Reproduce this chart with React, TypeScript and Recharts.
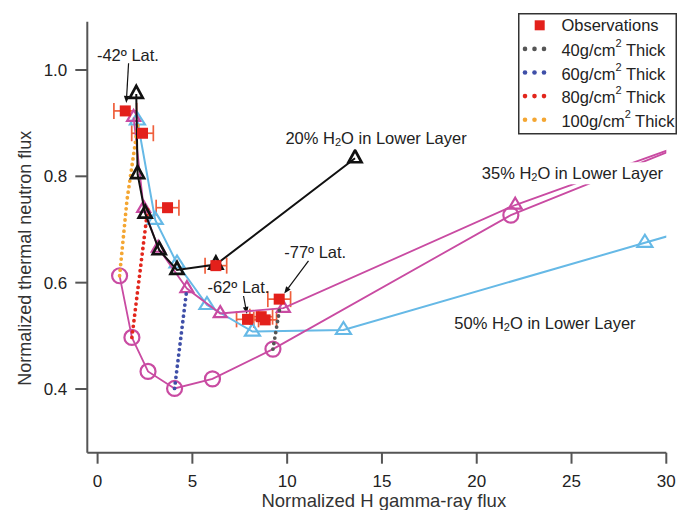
import React from 'react';
import {
  ScatterChart,
  Scatter,
  XAxis,
  YAxis,
  ErrorBar,
  ReferenceLine,
  ReferenceDot,
  Label,
} from 'recharts';

// ---------------- data ----------------
const xTicks = [0, 5, 10, 15, 20, 25, 30];
const yTicks = [0.4, 0.6, 0.8, 1.0];

// Observations (x, y, horizontal error)
const observations = [
  { x: 1.46, y: 0.923, ex: 0.6 },
  { x: 2.37, y: 0.881, ex: 0.57 },
  { x: 3.69, y: 0.741, ex: 0.6 },
  { x: 6.24, y: 0.632, ex: 0.57 },
  { x: 7.91, y: 0.531, ex: 0.58 },
  { x: 8.63, y: 0.536, ex: 0.6 },
  { x: 8.84, y: 0.53, ex: 0.6 },
  { x: 9.58, y: 0.569, ex: 0.6 },
];

// 20% H2O in lower layer (black triangles)
const water20 = [
  { x: 2.04, y: 0.955 },
  { x: 2.11, y: 0.804 },
  { x: 2.51, y: 0.73 },
  { x: 3.25, y: 0.661 },
  { x: 4.19, y: 0.624 },
  { x: 6.24, y: 0.634 },
  { x: 13.58, y: 0.834 },
];

// 35% H2O in lower layer (magenta triangles)
const water35 = [
  { x: 1.9, y: 0.911 },
  { x: 2.43, y: 0.74 },
  { x: 3.2, y: 0.665 },
  { x: 4.71, y: 0.589 },
  { x: 6.47, y: 0.542 },
  { x: 9.8, y: 0.552 },
  { x: 22.03, y: 0.746 },
  { x: 31, y: 0.861 },
];

// 35% H2O, thin-layer variant (magenta circles)
const water35Circles = [
  { x: 1.16, y: 0.613 },
  { x: 1.81, y: 0.497 },
  { x: 2.66, y: 0.433 },
  { x: 4.06, y: 0.401 },
  { x: 6.06, y: 0.419 },
  { x: 9.25, y: 0.475 },
  { x: 21.8, y: 0.727 },
  { x: 31, y: 0.859 },
];

// 50% H2O in lower layer (light-blue triangles)
const water50 = [
  { x: 2.1, y: 0.905 },
  { x: 3.04, y: 0.718 },
  { x: 4.19, y: 0.636 },
  { x: 5.77, y: 0.558 },
  { x: 8.17, y: 0.508 },
  { x: 12.97, y: 0.511 },
  { x: 28.87, y: 0.675 },
  { x: 31, y: 0.697 },
];

// layer-thickness curves (dotted)
const thick40 = [
  { x: 9.25, y: 0.475 },
  { x: 9.6, y: 0.55 },
];
const thick60 = [
  { x: 4.06, y: 0.401 },
  { x: 4.71, y: 0.589 },
];
const thick80 = [
  { x: 1.81, y: 0.497 },
  { x: 2.65, y: 0.74 },
];
const thick100 = [
  { x: 1.16, y: 0.613 },
  { x: 1.55, y: 0.755 },
  { x: 2.16, y: 0.905 },
];

// annotations
const latLabels = [
  { text: '-42º Lat.', x: 1.6, y: 1.028 },
  { text: '-62º Lat.', x: 7.43, y: 0.592 },
  { text: '-77º Lat.', x: 11.48, y: 0.658 },
];
const latArrows = [
  { x1: 1.634, y1: 1.0126, x2: 1.513, y2: 0.938 },
  { x1: 7.698, y1: 0.5749, x2: 7.877, y2: 0.5411 },
  { x1: 11.125, y1: 0.6408, x2: 9.844, y2: 0.5796 },
];
const waterLabels = [
  { pct: '20%', x: 14.69, y: 0.8715 },
  { pct: '35%', x: 25.05, y: 0.8057 },
  { pct: '50%', x: 23.6, y: 0.5236 },
];

const thicknessLegend = [40, 60, 80, 100];

// ---------------- styles ----------------
const FONT = '"Liberation Sans", Arial, Helvetica, sans-serif';
const W = 677;
const H = 510;
const AXIS = '#555';
const TEXT = '#222';
const RED = '#e3201b';
const ERR = '#ef5f3c';
const MAGENTA = '#c94ba2';
const LIGHTBLUE = '#66b9e6';
const BLACK = '#111';
const thickColors = ['#555555', '#3f4fa8', '#e2261c', '#f4a632'];

const triangle = (color: string, base: number, h: number, sw: number) => (p: any) => {
  const { cx, cy } = p;
  if (cx == null || cy == null) return <g />;
  const d = `M${cx},${cy - (h * 2) / 3} L${cx + base / 2},${cy + h / 3} L${cx - base / 2},${cy + h / 3} Z`;
  return <path d={d} fill="none" stroke={color} strokeWidth={sw} strokeLinejoin="miter" />;
};

const circle = (color: string, r: number, sw: number) => (p: any) => {
  const { cx, cy } = p;
  if (cx == null || cy == null) return <g />;
  return <circle cx={cx} cy={cy} r={r} fill="none" stroke={color} strokeWidth={sw} />;
};

const square = (color: string, s: number) => (p: any) => {
  const { cx, cy } = p;
  if (cx == null || cy == null) return <g />;
  return <rect x={cx - s / 2} y={cy - s / 2} width={s} height={s} fill={color} />;
};

const noShape = () => <g />;

const arrowShape = (p: any) => {
  const { x1, y1, x2, y2 } = p;
  if ([x1, y1, x2, y2].some((v) => v == null || isNaN(v))) return <g />;
  const ang = Math.atan2(y2 - y1, x2 - x1);
  const L = 7;
  const hw = 2.8;
  const bx = x2 - L * Math.cos(ang);
  const by = y2 - L * Math.sin(ang);
  const px = -Math.sin(ang) * hw;
  const py = Math.cos(ang) * hw;
  return (
    <g>
      <line x1={x1} y1={y1} x2={bx} y2={by} stroke={BLACK} strokeWidth={1.2} />
      <path d={`M${x2},${y2} L${bx + px},${by + py} L${bx - px},${by - py} Z`} fill={BLACK} />
    </g>
  );
};

const latTextShape = (text: string) => (p: any) => (
  <text
    x={p.cx}
    y={p.cy}
    textAnchor="middle"
    dominantBaseline="central"
    fontSize={16.5}
    fontFamily={FONT}
    fill={TEXT}
  >
    {text}
  </text>
);

const waterTextShape = (pct: string) => (p: any) => (
  <g>
    <rect x={p.cx - 94} y={p.cy - 11} width={188} height={22} fill="#fff" />
    <text
      x={p.cx}
      y={p.cy}
      textAnchor="middle"
      dominantBaseline="central"
      fontSize={16.5}
      fontFamily={FONT}
      fill={TEXT}
    >
      {pct} H
      <tspan fontSize={11} dy={4}>
        2
      </tspan>
      <tspan dy={-4}>O in Lower Layer</tspan>
    </text>
  </g>
);

const dotted = (color: string) => ({
  stroke: color,
  strokeWidth: 3.8,
  strokeDasharray: '0 5.6',
  strokeLinecap: 'round' as const,
});

const LegendBox = () => {
  const rowY = (i: number) => 12.3 + i * 23.6;
  return (
    <svg width={159} height={122} style={{ position: 'absolute', left: 518.3, top: 12.7 }}>
      <rect x={0.75} y={0.75} width={157.5} height={120} fill="#fff" stroke="#333" strokeWidth={1.5} />
      <rect x={21.7 - 5} y={rowY(0) - 5} width={10} height={10} fill={RED} />
      <text x={43.4} y={rowY(0)} dominantBaseline="central" fontSize={16.5} fontFamily={FONT} fill={TEXT}>
        Observations
      </text>
      {thicknessLegend.map((t, i) => {
        const y = rowY(i + 1);
        return (
          <g key={t}>
            {[7, 16.5, 26].map((dx) => (
              <circle key={dx} cx={dx} cy={y} r={2.3} fill={thickColors[i]} />
            ))}
            <text x={43.4} y={y + 1} dominantBaseline="central" fontSize={16.5} fontFamily={FONT} fill={TEXT}>
              {t}g/cm
              <tspan fontSize={11} dy={-7}>
                2
              </tspan>
              <tspan dy={7}> Thick</tspan>
            </text>
          </g>
        );
      })}
    </svg>
  );
};

export default function App() {
  return (
    <div
      style={{
        position: 'absolute',
        left: 0,
        top: 0,
        width: W,
        height: H,
        overflow: 'hidden',
        background: '#fff',
      }}
    >
      <ScatterChart width={W} height={H} margin={{ top: 21.7, right: 10.7, bottom: 17.3, left: 0 }}>
        <XAxis
          type="number"
          dataKey="x"
          domain={[-0.543, 30]}
          ticks={xTicks}
          interval={0}
          allowDataOverflow
          height={40}
          tickSize={11}
          tickMargin={11}
          axisLine={{ stroke: AXIS, strokeWidth: 2 }}
          tickLine={{ stroke: AXIS, strokeWidth: 2 }}
          tick={{ fill: TEXT, fontSize: 17, fontFamily: FONT }}
        >
          <Label
            content={(p: any) => {
              const vb = p.viewBox || { x: 87.3, y: 452.7, width: 579.3 };
              return (
                <text
                  x={vb.x + vb.width / 2 + 7}
                  y={vb.y + 47.3}
                  textAnchor="middle"
                  dominantBaseline="central"
                  fontSize={18.5}
                  fontFamily={FONT}
                  fill="#333"
                >
                  Normalized H gamma-ray flux
                </text>
              );
            }}
          />
        </XAxis>
        <YAxis
          type="number"
          dataKey="y"
          domain={[0.2802, 1.0908]}
          ticks={yTicks}
          interval={0}
          allowDataOverflow
          width={87.3}
          tickSize={12}
          tickMargin={8}
          tickFormatter={(v: number) => v.toFixed(1)}
          axisLine={{ stroke: AXIS, strokeWidth: 2 }}
          tickLine={{ stroke: AXIS, strokeWidth: 2 }}
          tick={{ fill: TEXT, fontSize: 17, fontFamily: FONT }}
        >
          <Label
            content={(p: any) => {
              const vb = p.viewBox || { x: 0, y: 21.7, height: 431 };
              const cx = 25;
              const cy = vb.y + vb.height / 2 + 21;
              return (
                <text
                  x={cx}
                  y={cy}
                  transform={`rotate(-90 ${cx} ${cy})`}
                  textAnchor="middle"
                  dominantBaseline="central"
                  fontSize={18}
                  fontFamily={FONT}
                  fill="#333"
                >
                  Normalized thermal neutron flux
                </text>
              );
            }}
          />
        </YAxis>

        <Scatter
          data={water50}
          isAnimationActive={false}
          line={{ stroke: LIGHTBLUE, strokeWidth: 2 }}
          lineType="joint"
          shape={triangle(LIGHTBLUE, 15, 12, 2.2)}
        />
        <Scatter
          data={water35Circles}
          isAnimationActive={false}
          line={{ stroke: MAGENTA, strokeWidth: 1.8 }}
          lineType="joint"
          shape={circle(MAGENTA, 7.5, 2.2)}
        />
        <Scatter
          data={water35}
          isAnimationActive={false}
          line={{ stroke: MAGENTA, strokeWidth: 1.8 }}
          lineType="joint"
          shape={triangle(MAGENTA, 13, 11, 2.2)}
        />
        <Scatter data={thick40} isAnimationActive={false} line={dotted(thickColors[0])} lineType="joint" shape={noShape} />
        <Scatter data={thick60} isAnimationActive={false} line={dotted(thickColors[1])} lineType="joint" shape={noShape} />
        <Scatter data={thick80} isAnimationActive={false} line={dotted(thickColors[2])} lineType="joint" shape={noShape} />
        <Scatter data={thick100} isAnimationActive={false} line={dotted(thickColors[3])} lineType="joint" shape={noShape} />
        <Scatter
          data={water20}
          isAnimationActive={false}
          line={{ stroke: BLACK, strokeWidth: 2 }}
          lineType="joint"
          shape={triangle(BLACK, 13, 12, 2.7)}
        />
        <Scatter data={observations} isAnimationActive={false} shape={square(RED, 11)}>
          <ErrorBar dataKey="ex" direction="x" width={8} stroke={ERR} strokeWidth={1.7} />
        </Scatter>

        {latArrows.map((a, i) => (
          <ReferenceLine
            key={`arr${i}`}
            segment={[
              { x: a.x1, y: a.y1 },
              { x: a.x2, y: a.y2 },
            ]}
            ifOverflow="visible"
            shape={arrowShape}
          />
        ))}
        {latLabels.map((l) => (
          <ReferenceDot
            key={l.text}
            x={l.x}
            y={l.y}
            r={0}
            ifOverflow="visible"
            shape={latTextShape(l.text)}
          />
        ))}
        {waterLabels.map((l) => (
          <ReferenceDot
            key={l.pct}
            x={l.x}
            y={l.y}
            r={0}
            ifOverflow="visible"
            shape={waterTextShape(l.pct)}
          />
        ))}
      </ScatterChart>
      <LegendBox />
    </div>
  );
}
